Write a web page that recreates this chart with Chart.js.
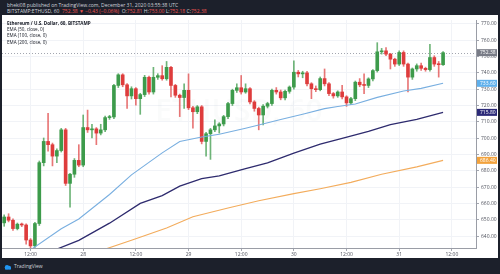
<!DOCTYPE html>
<html>
<head>
<meta charset="utf-8">
<script src="https://cdn.jsdelivr.net/npm/chart.js@4.4.0/dist/chart.umd.min.js"></script>
<style>
  html, body { margin: 0; padding: 0; }
  body { width: 500px; height: 274px; background: #1c202b; position: relative; overflow: hidden; font-family: "Open Sans", sans-serif; }
  #top { position: absolute; left: 7px; top: 3px; color: #d1d4dc; font-size: 5px; line-height: 5.5px; white-space: nowrap; }
  #top .dn { color: #ef5350; }
  #panel { position: absolute; left: 2px; top: 15px; width: 496px; height: 243px; background: #fff; }
  #legend { position: absolute; left: 5px; top: 4.5px; font-size: 4.6px; line-height: 6.4px; color: #131722; white-space: nowrap; z-index: 2; }
  #legend b { font-weight: 700; }
  #foot { position: absolute; left: 4px; top: 262px; height: 8px; color: #d1d4dc; font-size: 5px; line-height: 8px; white-space: nowrap; }
  #foot svg { vertical-align: middle; margin-right: 2px; }
</style>
</head>
<body>
<div id="top">
  <div>bheki08 published on TradingView.com, December 31, 2020 03:55:38 UTC</div>
  <div>BITSTAMP:ETHUSD, 60 &nbsp;<span class="dn">752.38 ▼ −0.43 (−0.06%)</span> &nbsp;O:<span class="dn">752.81</span> H:<span class="dn">753.00</span> L:<span class="dn">752.18</span> C:<span class="dn">752.38</span></div>
</div>
<div id="panel">
  <div id="legend">
    <div><b>Ethereum / U.S. Dollar, 60, BITSTAMP</b></div>
    <div>EMA (50, close, 0)</div>
    <div>EMA (100, close, 0)</div>
    <div>EMA (200, close, 0)</div>
  </div>
  <canvas id="priceChart"></canvas>
</div>
<div id="foot"><svg width="8" height="6" viewBox="0 0 8 6"><circle cx="3" cy="3.2" r="2.2" fill="#2196f3"/><circle cx="5.2" cy="3.6" r="1.8" fill="#2196f3"/><rect x="1" y="3.5" width="6" height="2" fill="#2196f3"/></svg>TradingView</div>

<script>
// hourly candles, first one is Dec 27 06:00
const candleOpen = [
  648.1, 651.7, 649.7, 644.6, 647.3, 646.8, 637.6, 634.0, 647.7, 685.0,
  698.0, 696.0, 689.0, 692.4, 705.1, 672.3, 677.9, 686.4, 683.5, 706.5,
  705.1, 705.7, 703.1, 705.1, 712.6, 713.0, 732.3, 738.8, 732.7, 725.9,
  730.3, 724.2, 726.7, 737.3, 728.3, 737.3, 738.3, 736.4, 743.4, 732.3,
  726.3, 724.9, 729.3, 718.6, 716.2, 719.2, 698.0, 702.7, 705.1, 707.5,
  708.7, 713.2, 721.2, 729.3, 730.9, 728.3, 730.3, 722.2, 718.2, 714.2,
  719.6, 721.2, 729.3, 728.3, 724.7, 728.7, 731.3, 740.4, 739.4, 740.0,
  733.3, 730.3, 729.7, 736.5, 733.3, 727.3, 725.9, 728.3, 725.3, 721.6,
  724.2, 734.3, 732.7, 732.3, 736.3, 741.4, 752.9, 753.5, 751.5, 748.4,
  745.4, 752.5, 745.4, 737.4, 742.4, 744.4, 742.8, 742.0, 749.4, 745.4,
  745.0
];
const candleHigh = [
  653.0, 653.7, 650.5, 648.0, 648.0, 647.5, 638.5, 648.5, 686.0, 700.1,
  715.2, 697.0, 693.5, 706.0, 706.0, 678.5, 687.5, 696.0, 714.2, 717.2,
  708.5, 706.5, 708.5, 713.5, 714.0, 733.0, 739.5, 739.5, 733.5, 731.5,
  731.0, 727.5, 738.5, 738.0, 743.4, 739.5, 744.4, 747.0, 744.0, 733.0,
  727.0, 733.3, 739.4, 719.5, 720.0, 720.0, 703.5, 706.0, 711.2, 709.5,
  714.0, 722.0, 730.0, 733.3, 738.4, 733.3, 731.0, 723.0, 719.0, 720.5,
  722.0, 730.0, 731.0, 729.5, 729.5, 732.0, 747.4, 741.5, 741.0, 741.0,
  734.0, 732.0, 737.5, 742.4, 734.0, 728.0, 729.0, 732.3, 726.0, 725.0,
  735.0, 736.5, 739.4, 737.0, 742.0, 758.5, 755.0, 755.5, 752.0, 749.0,
  753.5, 753.5, 746.0, 743.0, 745.5, 746.0, 743.5, 757.5, 750.5, 747.0,
  753.0
];
const candleLow = [
  646.0, 648.7, 643.5, 643.8, 645.8, 635.0, 632.6, 633.0, 646.5, 683.0,
  692.0, 683.0, 685.0, 691.5, 671.0, 657.7, 676.0, 682.5, 682.5, 703.5,
  700.1, 696.0, 702.0, 704.0, 711.5, 712.0, 731.0, 731.5, 718.2, 724.0,
  720.2, 714.6, 725.5, 727.0, 727.0, 736.0, 735.5, 735.5, 725.3, 725.0,
  713.2, 718.2, 717.5, 706.1, 715.0, 696.5, 689.0, 687.0, 704.0, 703.1,
  707.5, 712.0, 720.0, 728.0, 727.0, 727.5, 721.0, 716.5, 705.1, 708.1,
  718.5, 720.0, 727.0, 723.5, 723.5, 727.5, 730.0, 737.5, 737.0, 732.0,
  724.2, 728.5, 729.0, 732.0, 726.0, 724.5, 725.0, 724.0, 719.5, 720.5,
  723.0, 731.5, 727.3, 731.0, 735.0, 740.5, 751.5, 750.5, 742.4, 744.0,
  744.5, 744.0, 728.3, 736.0, 741.0, 741.5, 741.0, 741.0, 744.0, 737.4,
  744.5
];
const candleClose = [
  651.7, 649.7, 644.6, 647.3, 646.8, 637.6, 634.0, 647.7, 685.0, 698.0,
  696.0, 689.0, 692.4, 705.1, 672.3, 677.9, 686.4, 683.5, 706.5, 705.1,
  705.7, 703.1, 705.1, 712.6, 713.0, 732.3, 738.8, 732.7, 725.9, 730.3,
  724.2, 726.7, 737.3, 728.3, 737.3, 738.3, 736.4, 743.4, 732.3, 726.3,
  724.9, 729.3, 718.6, 716.2, 719.2, 698.0, 702.7, 705.1, 707.5, 708.7,
  713.2, 721.2, 729.3, 730.9, 728.3, 730.3, 722.2, 718.2, 714.2, 719.6,
  721.2, 729.3, 728.3, 724.7, 728.7, 731.3, 740.4, 739.4, 740.0, 733.3,
  730.3, 729.7, 736.5, 733.3, 727.3, 725.9, 728.3, 725.3, 721.6, 724.2,
  734.3, 732.7, 732.3, 736.3, 741.4, 752.9, 753.5, 751.5, 748.4, 745.4,
  752.5, 745.4, 737.4, 742.4, 744.4, 742.8, 742.0, 749.4, 745.4, 745.0,
  752.38
];

// EMA lines at a few candles
const ema50At = [6, 13, 17, 24, 29, 36, 40, 45, 49, 55, 58, 63, 68, 73, 76, 80, 85, 91, 95, 100];
const ema50Val = [631.5, 644.5, 650.5, 665.5, 677.5, 691.0, 698.0, 700.7, 702.4, 706.1, 708.1, 711.4, 714.7, 718.1, 719.4, 720.9, 725.0, 728.9, 730.5, 733.6];
const ema100At = [12, 17, 24, 31, 36, 40, 45, 49, 55, 60, 66, 72, 77, 83, 88, 94, 100];
const ema100Val = [632.0, 637.4, 647.9, 660.0, 664.8, 670.6, 675.2, 676.9, 681.3, 684.8, 690.8, 696.3, 699.8, 704.1, 708.3, 711.5, 715.8];
const ema200At = [23, 29, 37, 43, 51, 58, 66, 72, 79, 86, 94, 100];
const ema200Val = [632.0, 637.4, 645.0, 651.8, 657.2, 661.6, 666.0, 669.0, 672.9, 677.9, 682.4, 686.4];

// axis ticks
const priceTicks = [640, 650, 660, 670, 680, 690, 700, 710, 720, 730, 740, 750, 760, 770];
const timeTickAt = [6, 18, 30, 42, 54, 66, 78, 90, 102];
const timeTickText = ["12:00", "28", "12:00", "29", "12:00", "30", "12:00", "31", "12:00"];

const slotCount = 108; // 101 candles + empty space on the right
const font = '"Open Sans", sans-serif';

const hourLabels = Array.from({ length: slotCount }, (_, i) => {
  const d = new Date(Date.UTC(2020, 11, 27, 6 + i));
  return d.getUTCDate() + " " + String(d.getUTCHours()).padStart(2, "0") + ":00";
});

const sparse = (at, vals) => {
  const out = new Array(candleClose.length).fill(null);
  at.forEach((idx, k) => (out[idx] = vals[k]));
  return out;
};

const upColor = "#3d9b4b";
const downColor = "#de3c3c";
const candleColors = candleClose.map((c, i) => (c >= candleOpen[i] ? upColor : downColor));
const wickColors = candleClose.map((c, i) => (c >= candleOpen[i] ? "rgba(61,155,75,0.75)" : "rgba(222,60,60,0.7)"));

// coloured price tags on the right axis + last price line + watermark
const overlays = {
  id: "overlays",
  beforeDatasetsDraw(chart) {
    const { ctx, chartArea, scales } = chart;
    ctx.save();
    ctx.font = "600 30px " + font;
    ctx.fillStyle = "rgba(149,152,161,0.045)";
    ctx.textAlign = "center";
    ctx.textBaseline = "middle";
    ctx.fillText("ETHUSD, 60", (chartArea.left + chartArea.right) / 2, 97);
    const py = Math.round(scales.y.getPixelForValue(candleClose[candleClose.length - 1])) + 0.5;
    ctx.strokeStyle = "#a3a6af";
    ctx.lineWidth = 1;
    ctx.setLineDash([1, 2]);
    ctx.beginPath();
    ctx.moveTo(chartArea.left, py);
    ctx.lineTo(chartArea.right, py);
    ctx.stroke();
    ctx.restore();
  },
  afterDraw(chart) {
    const { ctx, chartArea, scales } = chart;
    const tags = [
      [candleClose[candleClose.length - 1], "#787b86"],
      [ema50Val[ema50Val.length - 1], "#5fb0ec"],
      [ema100Val[ema100Val.length - 1], "#2c2a78"],
      [ema200Val[ema200Val.length - 1], "#f2a23c"],
    ];
    ctx.save();
    ctx.font = "5px " + font;
    ctx.textBaseline = "middle";
    ctx.textAlign = "left";
    tags.forEach(([val, bg]) => {
      const py = scales.y.getPixelForValue(val);
      ctx.fillStyle = bg;
      ctx.fillRect(chartArea.right + 1, py - 3.5, 20, 7);
      ctx.fillStyle = "#ffffff";
      ctx.fillText(val.toFixed(2), chartArea.right + 4, py + 0.3);
    });
    ctx.restore();
  },
};

const initChart = () => {
  const ctx = document.getElementById("priceChart").getContext("2d");
  new Chart(ctx, {
    type: "bar",
    data: {
      labels: hourLabels,
      datasets: [
        {
          type: "line",
          data: sparse(ema50At, ema50Val),
          borderColor: "#79afe0",
          borderWidth: 1.1,
          pointRadius: 0,
          spanGaps: true,
          order: 0,
        },
        {
          type: "line",
          data: sparse(ema100At, ema100Val),
          borderColor: "#2e2b6e",
          borderWidth: 1.3,
          pointRadius: 0,
          spanGaps: true,
          order: 0,
        },
        {
          type: "line",
          data: sparse(ema200At, ema200Val),
          borderColor: "#f3ac5c",
          borderWidth: 1.1,
          pointRadius: 0,
          spanGaps: true,
          order: 0,
        },
        {
          data: candleOpen.map((o, i) => [o, candleClose[i]]),
          backgroundColor: candleColors,
          barThickness: 3,
          minBarLength: 1,
          grouped: false,
          order: 1,
        },
        {
          data: candleLow.map((l, i) => [l, candleHigh[i]]),
          backgroundColor: wickColors,
          barThickness: 1,
          grouped: false,
          order: 2,
        },
      ],
    },
    options: {
      responsive: true,
      maintainAspectRatio: false,
      animation: false,
      events: [],
      layout: { padding: { top: 2, left: 0, right: 0, bottom: 0 } },
      plugins: { legend: { display: false }, tooltip: { enabled: false } },
      scales: {
        x: {
          offset: true,
          grid: { offset: false, color: "#f1f3f7", tickLength: 3, tickColor: "#a3a6af" },
          border: { color: "#9a9da6" },
          ticks: {
            autoSkip: false,
            maxRotation: 0,
            padding: 1,
            color: "#50535e",
            font: { size: 5, family: font },
            callback: (v, i) => timeTickText[i],
          },
          afterBuildTicks: (scale) => {
            scale.ticks = timeTickAt.map((v) => ({ value: v }));
          },
          afterFit: (scale) => {
            scale.height = 10;
          },
        },
        y: {
          position: "right",
          min: 632.7,
          max: 772.4,
          grid: { color: "#f1f3f7", tickLength: 3, tickColor: "#a3a6af" },
          border: { color: "#9a9da6" },
          ticks: {
            padding: 2,
            color: "#50535e",
            font: { size: 5, family: font },
            callback: (v) => v.toFixed(2),
          },
          afterBuildTicks: (scale) => {
            scale.ticks = priceTicks.map((v) => ({ value: v }));
          },
          afterFit: (scale) => {
            scale.width = 22;
          },
        },
      },
    },
    plugins: [overlays],
  });
};

document.addEventListener("DOMContentLoaded", initChart);
</script>
</body>
</html>
